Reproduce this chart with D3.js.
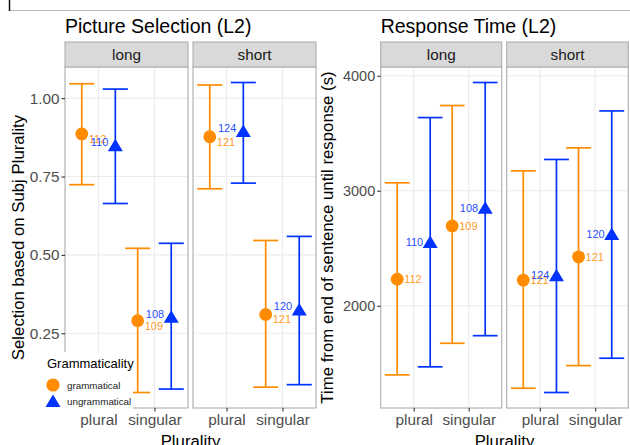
<!DOCTYPE html>
<html>
<head>
<meta charset="utf-8">
<script src="https://cdn.jsdelivr.net/npm/d3@7"></script>
<style>
  body { margin: 0; background: #fff; }
  svg { display: block; font-family: "Liberation Sans", Arial, Helvetica, sans-serif; }
</style>
</head>
<body>
<script>
// Factor levels
const lengths = ["long", "short"];
const plurality = ["plural", "singular"];
const grammaticality = ["grammatical", "ungrammatical"];

// Picture selection: order = long/short x plural/singular x grammatical/ungrammatical
const selMean = [0.886, 0.85, 0.29, 0.303, 0.877, 0.895, 0.31, 0.326];
const selLower = [0.724, 0.664, 0.061, 0.072, 0.711, 0.729, 0.078, 0.086];
const selUpper = [1.046, 1.029, 0.521, 0.537, 1.042, 1.05, 0.546, 0.559];
const selN = [112, 110, 109, 108, 121, 124, 121, 120];
const selTicks = [0.25, 0.5, 0.75, 1.0];

// Response time (same order)
const rtMean = [2231, 2555, 2694, 2852, 2223, 2266, 2425, 2624];
const rtLower = [1399, 1469, 1674, 1740, 1283, 1246, 1480, 1544];
const rtUpper = [3069, 3636, 3741, 3941, 3173, 3272, 3373, 3694];
const rtN = [112, 110, 109, 108, 121, 124, 121, 120];
const rtTicks = [2000, 3000, 4000];

const colors = { grammatical: "#ff8c00", ungrammatical: "#0033ff" };

function buildRows(mean, lower, upper, n) {
  const rows = [];
  let i = 0;
  lengths.forEach((len) => {
    plurality.forEach((p) => {
      grammaticality.forEach((g) => {
        rows.push({ len, p, g, mean: mean[i], lower: lower[i], upper: upper[i], n: n[i] });
        i++;
      });
    });
  });
  return rows;
}

const width = 630;
const height = 445;
const font = '"Liberation Sans", Arial, Helvetica, sans-serif';

const svg = d3.select("body").append("svg")
  .attr("width", width)
  .attr("height", height);

// frame remnants at top of the screenshot
svg.append("line").attr("x1", 9).attr("x2", 630).attr("y1", 10.5).attr("y2", 10.5)
  .attr("stroke", "#bdbdbd").attr("stroke-width", 1);
svg.append("line").attr("x1", 9.5).attr("x2", 9.5).attr("y1", 0).attr("y2", 11)
  .attr("stroke", "#111").attr("stroke-width", 1.5);

const panelTop = 67;
const panelBottom = 408;
const stripTop = 42;

const triangle = "M0,-6.5L7.5,6L-7.5,6Z";

function drawPlot(opts) {
  const data = buildRows(opts.mean, opts.lower, opts.upper, opts.n);
  const lo = d3.min(data, (d) => d.lower);
  const hi = d3.max(data, (d) => d.upper);
  const pad = (hi - lo) * 0.05;
  const y = d3.scaleLinear().domain([lo - pad, hi + pad]).range([panelBottom, panelTop]);

  const g = svg.append("g");

  // title
  g.append("text")
    .attr("x", opts.panels[0][0])
    .attr("y", 32.7)
    .style("font-size", "19.5px")
    .attr("fill", "#000")
    .text(opts.title);

  lengths.forEach((len, li) => {
    const [x0, x1] = opts.panels[li];
    const x = d3.scalePoint().domain(plurality).range([x0, x1]).padding(0.6);
    const step = x.step();
    const dodge = d3.scalePoint().domain(grammaticality).range([-0.3 * step, 0.3 * step]);
    const capHalf = 0.225 * step;
    const cx = (d) => x(d.p) + dodge(d.g);

    const panel = g.append("g");

    panel.append("rect")
      .attr("x", x0).attr("y", panelTop)
      .attr("width", x1 - x0).attr("height", panelBottom - panelTop)
      .attr("fill", "#fff");

    // grid
    panel.selectAll(".hgrid").data(opts.ticks).enter().append("line")
      .attr("x1", x0).attr("x2", x1)
      .attr("y1", (d) => y(d)).attr("y2", (d) => y(d))
      .attr("stroke", "#ebebeb").attr("stroke-width", 1.1);
    panel.selectAll(".vgrid").data(plurality).enter().append("line")
      .attr("x1", (d) => x(d)).attr("x2", (d) => x(d))
      .attr("y1", panelTop).attr("y2", panelBottom)
      .attr("stroke", "#ebebeb").attr("stroke-width", 1.1);

    const rows = data.filter((d) => d.len === len);

    // error bars
    const bars = panel.selectAll(".bar").data(rows).enter().append("g")
      .attr("stroke", (d) => colors[d.g]).attr("stroke-width", 1.7).attr("fill", "none");
    bars.append("line")
      .attr("x1", cx).attr("x2", cx)
      .attr("y1", (d) => y(d.lower)).attr("y2", (d) => y(d.upper));
    bars.append("line")
      .attr("x1", (d) => cx(d) - capHalf).attr("x2", (d) => cx(d) + capHalf)
      .attr("y1", (d) => y(d.lower)).attr("y2", (d) => y(d.lower));
    bars.append("line")
      .attr("x1", (d) => cx(d) - capHalf).attr("x2", (d) => cx(d) + capHalf)
      .attr("y1", (d) => y(d.upper)).attr("y2", (d) => y(d.upper));

    // points
    rows.forEach((d) => {
      if (d.g === "grammatical") {
        panel.append("circle").attr("cx", cx(d)).attr("cy", y(d.mean)).attr("r", 6.4)
          .attr("fill", colors[d.g]);
      } else {
        panel.append("path").attr("d", triangle)
          .attr("transform", `translate(${cx(d)},${y(d.mean)})`)
          .attr("fill", colors[d.g]);
      }
    });

    // n labels
    panel.selectAll(".lab").data(rows).enter().append("text")
      .attr("x", (d) => (d.g === "grammatical" ? cx(d) + 7 : cx(d) - 7))
      .attr("y", (d) => y(d.mean) + 4 + opts.labelDy[d.g])
      .attr("text-anchor", (d) => (d.g === "grammatical" ? "start" : "end"))
      .style("font-size", "11px")
      .attr("fill", (d) => colors[d.g])
      .attr("fill-opacity", 0.9)
      .text((d) => d.n);

    // border
    panel.append("rect")
      .attr("x", x0).attr("y", panelTop)
      .attr("width", x1 - x0).attr("height", panelBottom - panelTop)
      .attr("fill", "none").attr("stroke", "#b3b3b3").attr("stroke-width", 1.2);

    // strip
    panel.append("rect")
      .attr("x", x0).attr("y", stripTop)
      .attr("width", x1 - x0).attr("height", panelTop - stripTop)
      .attr("fill", "#d9d9d9").attr("stroke", "#b3b3b3").attr("stroke-width", 1.2);
    panel.append("text")
      .attr("x", (x0 + x1) / 2).attr("y", 60)
      .attr("text-anchor", "middle")
      .style("font-size", "15.3px")
      .attr("fill", "#1a1a1a")
      .text(len);

    // x axis
    const xAxis = d3.axisBottom(x).tickSize(3.5).tickPadding(4);
    const xg = g.append("g").attr("transform", `translate(0,${panelBottom})`).call(xAxis);
    xg.select(".domain").remove();
    xg.selectAll(".tick line").attr("stroke", "#333").attr("stroke-width", 1.1);
    xg.selectAll(".tick text")
      .attr("fill", "#4d4d4d")
      .style("font-size", "15.3px")
      .style("font-family", font)
      .attr("dy", null)
      .attr("y", 17);
  });

  // y axis
  const left = opts.panels[0][0];
  const yAxis = d3.axisLeft(y).tickValues(opts.ticks).tickFormat(opts.format).tickSize(3.5).tickPadding(2);
  const yg = g.append("g").attr("transform", `translate(${left},0)`).call(yAxis);
  yg.select(".domain").remove();
  yg.selectAll(".tick line").attr("stroke", "#333").attr("stroke-width", 1.1);
  yg.selectAll(".tick text")
    .attr("fill", "#4d4d4d")
    .style("font-size", opts.tickSize)
    .style("font-family", font);

  // axis titles
  const midY = (panelTop + panelBottom) / 2;
  g.append("text")
    .attr("transform", `translate(${opts.yTitleX},${midY}) rotate(-90)`)
    .attr("text-anchor", "middle")
    .style("font-size", "16.8px")
    .attr("fill", "#000")
    .text(opts.yTitle);

  const right = opts.panels[1][1];
  g.append("text")
    .attr("x", (left + right) / 2)
    .attr("y", 447)
    .attr("text-anchor", "middle")
    .style("font-size", "16.8px")
    .attr("fill", "#000")
    .text("Plurality");
}

drawPlot({
  title: "Picture Selection (L2)",
  mean: selMean, lower: selLower, upper: selUpper, n: selN,
  ticks: selTicks,
  format: d3.format(".2f"),
  tickSize: "15.3px",
  panels: [[65, 188], [193, 316]],
  yTitle: "Selection based on Subj Plurality",
  yTitleX: 24,
  labelDy: { grammatical: 5, ungrammatical: -3 }
});

drawPlot({
  title: "Response Time (L2)",
  mean: rtMean, lower: rtLower, upper: rtUpper, n: rtN,
  ticks: rtTicks,
  format: d3.format("d"),
  tickSize: "14.5px",
  panels: [[380.7, 501.7], [506.7, 628.3]],
  yTitle: "Time from end of sentence until response (s)",
  yTitleX: 333,
  labelDy: { grammatical: 0, ungrammatical: 0 }
});

// Legend (drawn over the left panel)
const legend = svg.append("g").attr("id", "legend");
legend.append("rect")
  .attr("x", 38).attr("y", 352).attr("width", 95).attr("height", 62)
  .attr("fill", "#fff");
legend.append("text")
  .attr("x", 47).attr("y", 368)
  .style("font-size", "13px")
  .attr("fill", "#000")
  .text("Grammaticality");
const legendRows = legend.selectAll(".key").data(grammaticality).enter().append("g")
  .attr("transform", (d, i) => `translate(53,${385 + i * 16})`);
legendRows.each(function (d) {
  const sel = d3.select(this);
  if (d === "grammatical") {
    sel.append("circle").attr("r", 6.6).attr("fill", colors[d]);
  } else {
    sel.append("path").attr("d", triangle).attr("fill", colors[d]);
  }
});
legendRows.append("text")
  .attr("x", 14).attr("y", 3.8)
  .style("font-size", "9.8px")
  .attr("fill", "#222")
  .text((d) => d);
</script>
</body>
</html>
